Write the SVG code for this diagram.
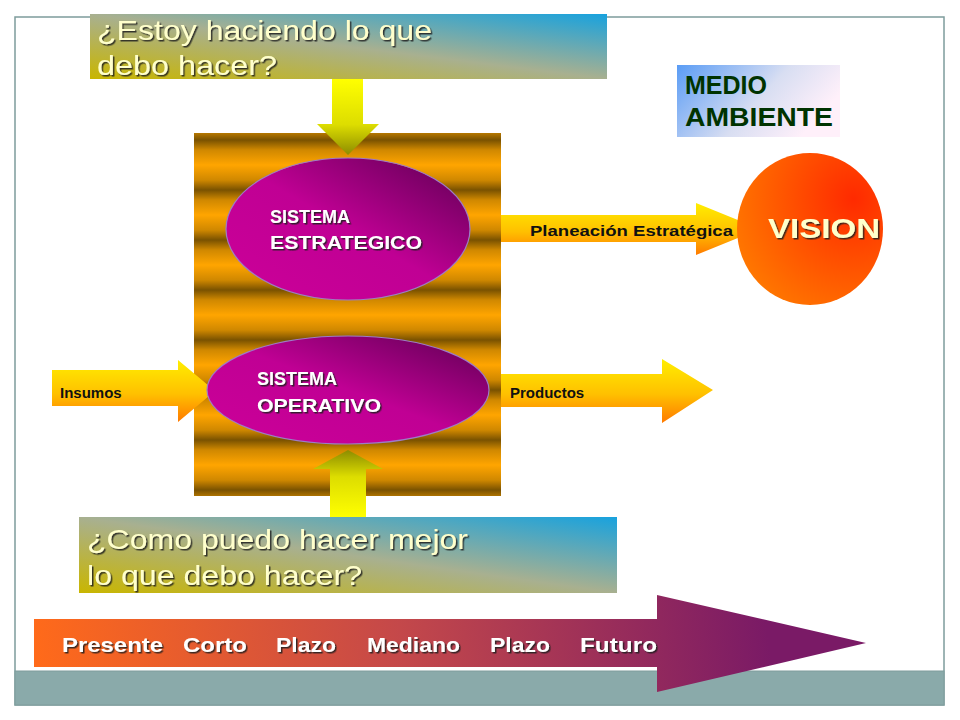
<svg xmlns="http://www.w3.org/2000/svg" width="960" height="720" viewBox="0 0 960 720">
<defs>
<style>
.q{font-family:"Liberation Sans",Arial,sans-serif;font-size:28px;fill:#FFFFCC;filter:url(#sh)}
.sys{font-family:"Liberation Sans",Arial,sans-serif;font-weight:bold;font-size:18px;fill:#FFFFFF;filter:url(#sh)}
.lbl{font-family:"Liberation Sans",Arial,sans-serif;font-weight:bold;font-size:15px;fill:#111111}
.tl{font-family:"Liberation Sans",Arial,sans-serif;font-weight:bold;font-size:21px;fill:#FFFFFF;filter:url(#sh)}
</style>
<filter id="sh" x="-10%" y="-30%" width="130%" height="160%">
<feDropShadow dx="1.5" dy="1.5" stdDeviation="0.6" flood-color="#222222" flood-opacity="0.85"/>
</filter>
<linearGradient id="qg" x1="0" y1="1" x2="1" y2="0">
<stop offset="0" stop-color="#C9B600"/>
<stop offset="0.5" stop-color="#A8B090"/>
<stop offset="1" stop-color="#18A2DE"/>
</linearGradient>
<linearGradient id="stripe" gradientUnits="userSpaceOnUse" x1="0" y1="115" x2="0" y2="165" spreadMethod="repeat">
<stop offset="0" stop-color="#FFA500"/>
<stop offset="0.3" stop-color="#D08800"/>
<stop offset="0.5" stop-color="#7A5200"/>
<stop offset="0.7" stop-color="#D08800"/>
<stop offset="1" stop-color="#FFA500"/>
</linearGradient>
<linearGradient id="mag" x1="0" y1="1" x2="1" y2="0">
<stop offset="0" stop-color="#CC0099"/>
<stop offset="0.5" stop-color="#C00094"/>
<stop offset="0.85" stop-color="#7A0066"/>
<stop offset="1" stop-color="#800070"/>
</linearGradient>
<linearGradient id="yarr" x1="0" y1="0" x2="0" y2="1">
<stop offset="0" stop-color="#FFEE00"/>
<stop offset="0.55" stop-color="#FFC000"/>
<stop offset="1" stop-color="#FF7A00"/>
</linearGradient>
<linearGradient id="vdown" x1="0" y1="0" x2="0" y2="1">
<stop offset="0" stop-color="#FFFF00"/>
<stop offset="0.6" stop-color="#DDDD00"/>
<stop offset="1" stop-color="#8C8C00"/>
</linearGradient>
<linearGradient id="vup" x1="0" y1="1" x2="0" y2="0">
<stop offset="0" stop-color="#FFFF00"/>
<stop offset="0.6" stop-color="#DDDD00"/>
<stop offset="1" stop-color="#8C8C00"/>
</linearGradient>
<radialGradient id="vis" cx="0.8" cy="0.3" r="0.9">
<stop offset="0" stop-color="#FF2A00"/>
<stop offset="1" stop-color="#FF7A00"/>
</radialGradient>
<linearGradient id="med" x1="0" y1="0" x2="1" y2="0.4">
<stop offset="0" stop-color="#5A9CF5"/>
<stop offset="0.6" stop-color="#D8DEF2"/>
<stop offset="1" stop-color="#FFF0FA"/>
</linearGradient>
<linearGradient id="tlg" gradientUnits="userSpaceOnUse" x1="40" y1="680" x2="760" y2="580">
<stop offset="0" stop-color="#FF6A1A"/>
<stop offset="0.5" stop-color="#C4484A"/>
<stop offset="1" stop-color="#7A1A66"/>
</linearGradient>
</defs>

<rect width="960" height="720" fill="#FFFFFF"/>
<g id="frame">
<rect x="15" y="17" width="929" height="688" fill="none" stroke="#7E9C9C" stroke-width="1.5"/>
<rect x="15" y="671" width="929" height="34" fill="#8AAAAA" stroke="#7E9C9C" stroke-width="1"/>
</g>

<g id="sistema-box">
<rect x="194" y="133" width="307" height="363" fill="url(#stripe)"/>
</g>

<g id="connectors">
<polygon points="332,79 363,79 363,124 379,124 348,155 317,124 332,124" fill="url(#vdown)"/>
<polygon points="330,517 366,517 366,469 383,469 348,450 313,469 330,469" fill="url(#vup)"/>
<polygon points="52,370 178,370 178,360 215,391 178,422 178,406 52,406" fill="url(#yarr)"/>
<polygon points="501,215 696,215 696,203 760,229 696,255 696,242 501,242" fill="url(#yarr)"/>
<polygon points="501,374 662,374 662,359 713,390 662,423 662,407 501,407" fill="url(#yarr)"/>
<text class="lbl" x="60" y="398">Insumos</text>
<text class="lbl" x="530" y="236" font-size="14" textLength="203" lengthAdjust="spacingAndGlyphs">Planeación Estratégica</text>
<text class="lbl" x="510" y="398">Productos</text>
</g>

<g id="pregunta-1">
<rect x="90" y="14" width="517" height="65" fill="url(#qg)"/>
<text class="q" x="97" y="40" textLength="335" lengthAdjust="spacingAndGlyphs">¿Estoy haciendo lo que</text>
<text class="q" x="97" y="75" textLength="180" lengthAdjust="spacingAndGlyphs">debo hacer?</text>
</g>

<g id="sistema-estrategico">
<ellipse cx="348" cy="229" rx="122" ry="71" fill="url(#mag)" stroke="#9C7CC8" stroke-width="1.2"/>
<text class="sys" x="270" y="223">SISTEMA</text>
<text class="sys" x="270" y="249" textLength="152" lengthAdjust="spacingAndGlyphs">ESTRATEGICO</text>
</g>

<g id="sistema-operativo">
<ellipse cx="348" cy="390" rx="141" ry="54" fill="url(#mag)" stroke="#9C7CC8" stroke-width="1.2"/>
<text class="sys" x="257" y="385">SISTEMA</text>
<text class="sys" x="257" y="412" textLength="124" lengthAdjust="spacingAndGlyphs">OPERATIVO</text>
</g>

<g id="pregunta-2">
<rect x="79" y="517" width="538" height="76" fill="url(#qg)"/>
<text class="q" x="87" y="549" textLength="381" lengthAdjust="spacingAndGlyphs">¿Como puedo hacer mejor</text>
<text class="q" x="87" y="585" textLength="275" lengthAdjust="spacingAndGlyphs">lo que debo hacer?</text>
</g>

<g id="medio-ambiente">
<rect x="677" y="65" width="163" height="72" fill="url(#med)"/>
<text x="685" y="94" font-family="Liberation Sans,Arial,sans-serif" font-weight="bold" font-size="25" fill="#003300">MEDIO</text>
<text x="685" y="126" font-family="Liberation Sans,Arial,sans-serif" font-weight="bold" font-size="25" fill="#003300" textLength="148" lengthAdjust="spacingAndGlyphs">AMBIENTE</text>
</g>

<g id="vision">
<ellipse cx="810" cy="229" rx="73" ry="76" fill="url(#vis)"/>
<text x="768" y="238" font-family="Liberation Sans,Arial,sans-serif" font-weight="bold" font-size="27" fill="#FFFFCC" filter="url(#sh)" textLength="112" lengthAdjust="spacingAndGlyphs">VISION</text>
</g>

<g id="linea-tiempo">
<polygon points="34,619 657,619 657,595 866,643 657,692 657,667 34,667" fill="url(#tlg)"/>
<text class="tl" x="62" y="652" textLength="101" lengthAdjust="spacingAndGlyphs">Presente</text>
<text class="tl" x="183" y="652" textLength="64" lengthAdjust="spacingAndGlyphs">Corto</text>
<text class="tl" x="276" y="652" textLength="60" lengthAdjust="spacingAndGlyphs">Plazo</text>
<text class="tl" x="367" y="652" textLength="93" lengthAdjust="spacingAndGlyphs">Mediano</text>
<text class="tl" x="490" y="652" textLength="60" lengthAdjust="spacingAndGlyphs">Plazo</text>
<text class="tl" x="580" y="652" textLength="77" lengthAdjust="spacingAndGlyphs">Futuro</text>
</g>
</svg>
